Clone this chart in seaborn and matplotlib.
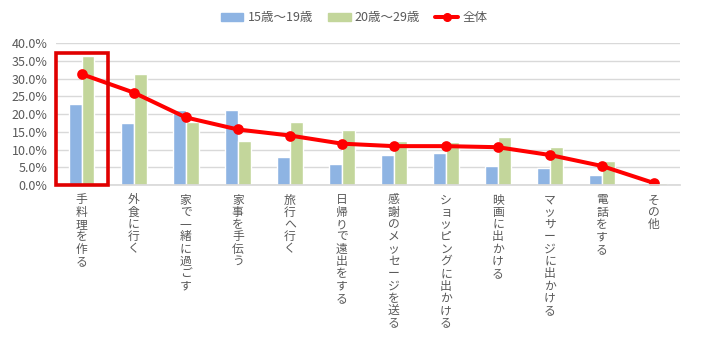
import pandas as pd
import matplotlib
matplotlib.use("Agg")
import matplotlib.pyplot as plt
import matplotlib.patches as mpatches
from matplotlib.lines import Line2D
from matplotlib.ticker import PercentFormatter
import seaborn as sns

# ================== データ ==================
items = [
    "手料理を作る", "外食に行く", "家で一緒に過ごす", "家事を手伝う", "旅行へ行く",
    "日帰りで遠出をする", "感謝のメッセージを送る", "ショッピングに出かける",
    "映画に出かける", "マッサージに出かける", "電話をする", "その他",
]
teens = [23.0, 17.4, 21.1, 21.1, 7.9, 5.9, 8.5, 9.0, 5.4, 4.9, 2.8, 0.6]
twenties = [36.3, 31.3, 17.8, 12.4, 17.7, 15.5, 12.4, 12.1, 13.5, 10.7, 6.8, 0.6]
overall = [31.3, 26.1, 19.1, 15.7, 14.0, 11.7, 11.0, 11.0, 10.7, 8.5, 5.4, 0.6]
series_names = ["15歳～19歳", "20歳～29歳", "全体"]
# ============================================

BLUE = "#8EB4E3"
GREEN = "#C3D69B"
RED = "#FF0000"
GREY_TXT = "#595959"
GRID = "#D9D9D9"

sns.set_theme(style="white")
plt.rcParams["font.family"] = ["Noto Sans CJK JP", "DejaVu Sans"]

df = pd.DataFrame({"item": items * 2,
                   "value": [v / 100 for v in teens + twenties],
                   "age": [series_names[0]] * len(items) + [series_names[1]] * len(items)})

fig = plt.figure(figsize=(7.01, 3.52), dpi=100)
ax = fig.add_axes([0.0795, 0.474, 0.8905, 0.403])

sns.barplot(data=df, x="item", y="value", hue="age", order=items,
            palette=[BLUE, GREEN], width=0.49, gap=0, saturation=1,
            legend=False, ax=ax)
sns.pointplot(x=items, y=[v / 100 for v in overall], order=items, color=RED,
              markers="o", markersize=5.5, linewidth=2.9, errorbar=None, ax=ax)

ax.set_xlim(-0.5, len(items) - 0.5)
ax.set_ylim(0, 0.40)
ax.set_yticks([i * 0.05 for i in range(9)])
ax.yaxis.set_major_formatter(PercentFormatter(1.0, decimals=1))
ax.grid(axis="y", color=GRID, linewidth=1)
ax.set_axisbelow(True)
for s in ["top", "right", "left"]:
    ax.spines[s].set_visible(False)
ax.spines["bottom"].set_color(GRID)
ax.set_xlabel("")
ax.set_ylabel("")

# 縦書きラベル
ax.set_xticks(range(len(items)))
ax.set_xticklabels(["\n".join(t) for t in items], va="top", linespacing=0.93)
ax.tick_params(axis="x", length=0, pad=6, labelsize=8.5, colors=GREY_TXT)
ax.tick_params(axis="y", length=0, pad=6, labelsize=9, colors=GREY_TXT)

# 強調枠
ax.add_patch(mpatches.Rectangle((-0.5, 0), 1.0, 0.372, fill=False,
                                edgecolor="#E00000", linewidth=2.6,
                                clip_on=False, zorder=5))

handles = [
    mpatches.Patch(color=BLUE, label=series_names[0]),
    mpatches.Patch(color=GREEN, label=series_names[1]),
    Line2D([0], [0], color=RED, linewidth=2.9, marker="o", markersize=5.5,
           label=series_names[2]),
]
fig.legend(handles=handles, loc="center", bbox_to_anchor=(0.505, 0.95), ncol=3,
           frameon=False, fontsize=9, handlelength=1.8, handleheight=0.6,
           columnspacing=1.2, handletextpad=0.35, labelcolor=GREY_TXT)

plt.savefig("out.png", dpi=100)
